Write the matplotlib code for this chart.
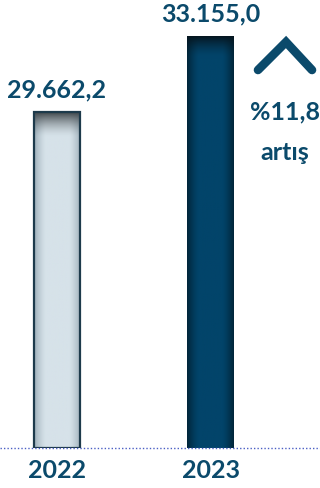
import numpy as np
import matplotlib
matplotlib.use("Agg")
import matplotlib.pyplot as plt
from matplotlib.colors import to_rgb
from matplotlib.lines import Line2D

years = ["2022", "2023"]
values = [29662.2, 33155.0]
value_labels = ["29.662,2", "33.155,0"]
change_label = "%11,8"
change_word = "artış"

TEXT = "#0b4a6b"
FONT = "Lato"

fig = plt.figure(figsize=(3.2, 4.88), dpi=100)
fig.patch.set_facecolor("white")
ax = fig.add_axes([0, 40/488, 1, 448/488])
ax.set_facecolor("none")

x = np.arange(len(years))
width = 0.303
bars = ax.bar(x, values, width=width, color="none", edgecolor="none", zorder=2)

ymin, ymax = 14221, 34809
ax.set_xlim(-0.371, 1.713)
ax.set_ylim(ymin, ymax)

def shade(base, edge, top, nx=60, ny=200, top_frac_fade=0.10):
    b = np.array(to_rgb(base)); e = np.array(to_rgb(edge)); t = np.array(to_rgb(top))
    xs = np.linspace(-1, 1, nx)
    hx = np.clip((np.abs(xs) - 0.5) / 0.5, 0, 1) ** 1.4
    row = b[None, :] * (1 - hx[:, None]) + e[None, :] * hx[:, None]
    img = np.repeat(row[None, :, :], ny, axis=0)
    ys = np.linspace(0, 1, ny)  # 0 = top
    tv = np.clip(1 - ys / top_frac_fade, 0, 1) ** 1.6
    img = img * (1 - tv[:, None, None]) + t[None, None, :] * tv[:, None, None]
    return img

styles = [
    dict(base="#d6e2e9", edge="#9fb0ba", top="#3c4347", border="#1d3a4b", lw=1.6, fade=0.09),
    dict(base="#02446a", edge="#01263a", top="#06151e", border="none", lw=0, fade=0.05),
]
for bar, st in zip(bars, styles):
    x0 = bar.get_x(); w = bar.get_width(); h = bar.get_height()
    img = shade(st["base"], st["edge"], st["top"], top_frac_fade=st["fade"] * (h - ymin) / (ymax - ymin) / 0.9)
    im = ax.imshow(img, extent=[x0, x0 + w, ymin, h], aspect="auto", zorder=2, interpolation="bilinear")
    im.set_clip_path(bar)
    if st["lw"]:
        ax.add_patch(plt.Rectangle((x0, ymin), w, h - ymin, fill=False,
                                   edgecolor=st["border"], lw=st["lw"], zorder=3))

ax.set_xlim(-0.371, 1.713)
ax.set_ylim(ymin, ymax)

for xi, v, lab in zip(x, values, value_labels):
    ax.annotate(lab, (xi, v), xytext=(0, 16), textcoords="offset points",
                ha="center", va="center", fontsize=18, fontweight="bold",
                color=TEXT, family=FONT)

ax.axhline(ymin, color="#4b5fc4", lw=1.0, ls=(0, (1, 1.5)), zorder=4, clip_on=False)

ax.set_xticks(x)
ax.set_xticklabels(years, fontsize=18, fontweight="bold", color=TEXT, family=FONT)
ax.tick_params(axis="x", length=0, pad=8)
ax.set_yticks([])
for s in ax.spines.values():
    s.set_visible(False)

# chevron
px = [258, 286, 312]
py = [70, 42, 70]
fig.add_artist(Line2D([p/320 for p in px], [1 - p/488 for p in py],
                      transform=fig.transFigure, color=TEXT, lw=6.2,
                      solid_capstyle="round", solid_joinstyle="miter"))
fig.text(285/320, 1 - 112/488, change_label, ha="center", va="center",
         fontsize=18, fontweight="bold", color=TEXT, family=FONT)
fig.text(285/320, 1 - 152/488, change_word, ha="center", va="center",
         fontsize=18, fontweight="bold", color=TEXT, family=FONT)

fig.savefig("out.png", dpi=100, facecolor="white")
